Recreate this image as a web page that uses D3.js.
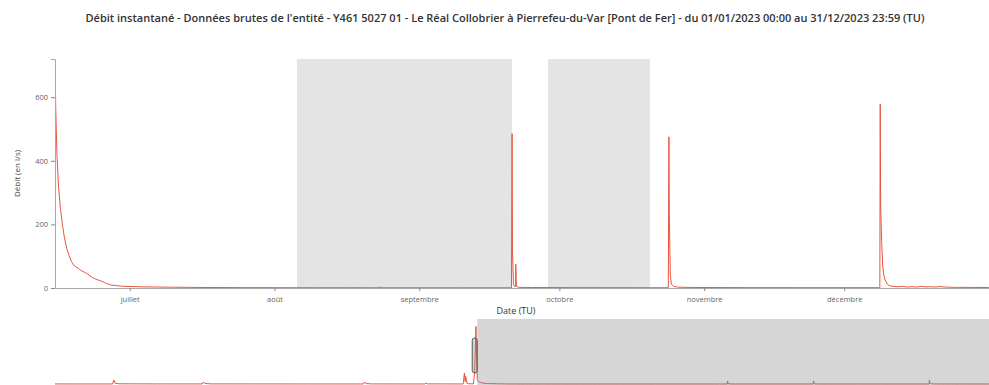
<!DOCTYPE html>
<html><head><meta charset="utf-8">
<script src="https://cdn.jsdelivr.net/npm/d3@7"></script>
<style>
html,body{margin:0;padding:0;background:#fff;}
svg{display:block;font-family:"Open Sans",sans-serif;}
</style></head>
<body><svg id="c" width="989" height="385"></svg>
<script>
const titleText = "Débit instantané - Données brutes de l'entité - Y461 5027 01 - Le Réal Collobrier à Pierrefeu-du-Var [Pont de Fer] - du 01/01/2023 00:00 au 31/12/2023 23:59 (TU)";
const yLabel = "Débit (en l/s)";
const xLabel = "Date (TU)";
const yTicks = [0, 200, 400, 600];
const monthNames = ["janvier","février","mars","avril","mai","juin","juillet","août","septembre","octobre","novembre","décembre"];

// Missing-data periods (grey bands in main chart)
const gapStarts = ["2023-08-05 20:00", "2023-09-28 14:00"];
const gapEnds   = ["2023-09-20 21:00", "2023-10-20 10:00"];

// Zoomed window and brush selection
const viewStart = "2023-06-15 00:00";
const viewEnd   = "2024-01-01 00:00";
const yearStart = "2023-01-01 00:00";

// Flow before the zoomed window (navigator only)
const earlyTimes = ["01-01 00:00","01-10 00:00","01-23 12:00","01-24 00:00","01-24 12:00","01-26 00:00","02-10 00:00","02-27 12:00","02-28 00:00","02-28 12:00","03-03 00:00","03-20 00:00","04-10 00:00","05-01 12:00","05-02 00:00","05-02 12:00","05-05 00:00","05-25 12:00","05-26 00:00","05-26 12:00","06-09 00:00","06-09 12:00","06-10 00:00","06-10 06:00","06-10 12:00","06-11 00:00","06-11 12:00","06-13 12:00","06-14 00:00","06-14 12:00"];
const earlyValues = [8,6,6,620,120,30,12,8,320,80,16,10,6,4,320,60,12,4,160,16,6,6,1720,400,1200,120,40,24,1800,9000];

// Flow in the zoomed window (l/s)
const flowTimes = ["06-15 00:00","06-15 04:00","06-15 10:00","06-15 18:00","06-16 04:00","06-16 14:00","06-17 00:00","06-17 12:00","06-18 00:00","06-18 12:00","06-19 00:00","06-19 12:00","06-20 00:00","06-20 12:00","06-21 00:00","06-21 12:00","06-22 00:00","06-22 12:00","06-23 00:00","06-23 12:00","06-24 00:00","06-24 12:00","06-25 00:00","06-25 12:00","06-26 00:00","06-26 12:00","06-27 00:00","06-28 00:00","06-29 00:00","06-30 00:00","07-02 00:00","07-04 00:00","07-07 00:00","07-10 00:00","07-14 00:00","07-18 00:00","07-25 00:00","08-01 00:00","08-10 00:00","08-23 10:00","08-23 12:00","08-23 14:00","09-10 00:00","09-17 14:00","09-17 16:00","09-17 18:00","09-20 18:00","09-20 21:00","09-20 23:00","09-21 04:00","09-21 12:00","09-21 15:00","09-21 16:00","09-21 19:00","09-22 06:00","09-25 00:00","10-05 00:00","10-24 08:00","10-24 11:00","10-24 13:00","10-24 18:00","10-25 00:00","10-25 12:00","10-26 12:00","10-30 00:00","11-10 12:00","11-10 14:00","11-10 16:00","11-20 00:00","12-08 15:00","12-08 17:00","12-08 19:00","12-09 00:00","12-09 06:00","12-09 12:00","12-09 18:00","12-10 06:00","12-10 18:00","12-11 12:00","12-12 12:00","12-13 12:00","12-14 12:00","12-15 12:00","12-16 12:00","12-17 12:00","12-18 12:00","12-19 12:00","12-20 12:00","12-21 12:00","12-22 12:00","12-23 12:00","12-25 00:00","12-28 00:00","12-31 23:00"];
const flowValues = [718,560,420,320,250,200,160,125,102,84,72,66,62,56,52,48,44,38,33,30,26,24,21,18,14,12,9,8,6,5,4.5,3.5,3,2.5,2,1.5,1.2,1,0.8,0.7,4,0.7,0.6,0.6,3,0.6,0.6,485,120,12,4,4,75,6,2,1.5,1,0.8,475,235,40,12,5,2.5,1.5,1.2,3,1.2,1,1,578,267,150,66,40,25,12,7,5,4,5,3,4.5,3,5,3.5,4,3,4.5,3,2.5,2,1.8,1.6];

const parse = d3.timeParse("%Y-%m-%d %H:%M");
const mk = (ts, vs) => ts.map((t,i) => ({t: parse("2023-" + t), v: vs[i]}));
const early = mk(earlyTimes, earlyValues);
const main = mk(flowTimes, flowValues);
const all = early.concat(main);

const svg = d3.select("#c");
const m = {left: 55, right: 989, top: 59, bottom: 288};
const lineColor = "#e8553f";

// Title
svg.append("text").attr("x", 505).attr("y", 22).attr("text-anchor","middle")
  .attr("font-size", 11).attr("font-weight", 600).attr("fill", "#333").text(titleText);

const x = d3.scaleTime().domain([parse(viewStart), parse(viewEnd)]).range([m.left, m.right]);
const y = d3.scaleLinear().domain([0, 720]).range([m.bottom, m.top]);

svg.append("defs").append("clipPath").attr("id","clipMain")
  .append("rect").attr("x", m.left).attr("y", m.top).attr("width", m.right - m.left).attr("height", m.bottom - m.top);

// Grey gap bands
svg.append("g").selectAll("rect").data(gapStarts.map((s,i)=>[parse(s), parse(gapEnds[i])]))
  .join("rect").attr("x", d=>x(d[0])).attr("width", d=>x(d[1])-x(d[0]))
  .attr("y", m.top).attr("height", m.bottom - m.top).attr("fill", "#e4e4e4");

// Line
svg.append("path").datum(main).attr("clip-path","url(#clipMain)")
  .attr("d", d3.line().x(d=>x(d.t)).y(d=>y(d.v)))
  .attr("fill","none").attr("stroke", lineColor).attr("stroke-width", 1);

// Axes
const monthTicks = d3.timeMonth.range(d3.timeMonth.ceil(parse(viewStart)), parse(viewEnd));
const xAxis = d3.axisBottom(x).tickValues(monthTicks).tickSize(3).tickSizeOuter(0)
  .tickFormat(d => monthNames[d.getMonth()]);
const gx = svg.append("g").attr("transform", `translate(0,${m.bottom})`).call(xAxis);
const yAxis = d3.axisLeft(y).tickValues(yTicks).tickSize(4);
const gy = svg.append("g").attr("transform", `translate(${m.left},0)`).call(yAxis);
[gx, gy].forEach(g => {
  g.select(".domain").attr("stroke", "#a8a8a8");
  g.selectAll(".tick line").attr("stroke", "#888");
  g.selectAll(".tick text").attr("fill", "#666").attr("font-size", 7.5).attr("font-family", "Open Sans, sans-serif");
});
gx.selectAll(".tick text").attr("dy", "1.1em");

svg.append("text").attr("transform", `translate(20,${(m.top+m.bottom)/2}) rotate(-90)`)
  .attr("text-anchor","middle").attr("font-size", 8).attr("fill", "#444").text(yLabel);
svg.append("text").attr("x", 516).attr("y", 314).attr("text-anchor","middle")
  .attr("font-size", 9).attr("fill", "#333").text(xLabel);

// Navigator
const xn = d3.scaleTime().domain([parse(yearStart), parse(viewEnd)]).range([m.left, m.right]);
const yn = d3.scaleLinear().domain([0, 10000]).range([384, 320]);
svg.append("path").datum(all)
  .attr("d", d3.line().x(d=>xn(d.t)).y(d=>yn(d.v)))
  .attr("fill","none").attr("stroke", lineColor).attr("stroke-width", 1);
svg.append("rect").attr("x", xn(parse(viewStart))).attr("y", 319)
  .attr("width", xn(parse(viewEnd)) - xn(parse(viewStart)) + 20).attr("height", 80)
  .attr("fill", "#777").attr("fill-opacity", 0.3);
svg.append("rect").attr("x", xn(parse(viewStart)) - 5).attr("y", 338).attr("width", 5).attr("height", 35)
  .attr("rx", 2.5).attr("fill", "#888").attr("fill-opacity", 0.35).attr("stroke", "#555").attr("stroke-width", 1);
</script></body></html>
